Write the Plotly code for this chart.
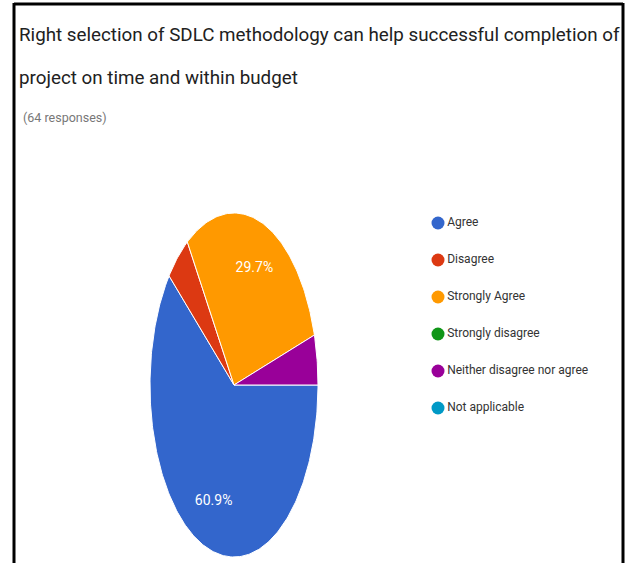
import math
import plotly.graph_objects as go

# ---- data ----
categories = ["Agree", "Disagree", "Strongly Agree", "Strongly disagree",
              "Neither disagree nor agree", "Not applicable"]
responses = [39, 3, 19, 0, 3, 0]
colors = ["#3366CC", "#DC3912", "#FF9900", "#109618", "#990099", "#0099C6"]
title_lines = ["Right selection of SDLC methodology can help successful completion of",
               "project on time and within budget"]
subtitle = "(64 responses)"

# ---- layout constants (pixels) ----
W, H = 633, 563
CX, CY, RX, RY = 234, 385, 84, 172     # elliptical (horizontally squeezed) pie
PAD = 1.02
FONT = "Roboto, Liberation Sans, sans-serif"
START = 90.0   # first slice begins at 3 o'clock, clockwise
LABEL_R = 0.72

fig = go.Figure()

total = sum(responses)
ang = START
label_x, label_y, label_t = [], [], []
for cat, val, col in zip(categories, responses, colors):
    span = 360.0 * val / total
    if val > 0:
        n = max(int(span / 1.0), 2)
        xs, ys = [0.0], [0.0]
        for i in range(n + 1):
            a = math.radians(ang + span * i / n)
            xs.append(math.sin(a))
            ys.append(math.cos(a))
        xs.append(0.0)
        ys.append(0.0)
        fig.add_trace(go.Scatter(
            x=xs, y=ys, mode="lines", fill="toself", fillcolor=col,
            line=dict(color="white", width=1), hoverinfo="skip",
            showlegend=False, xaxis="x", yaxis="y"))
        pct = 100.0 * val / total
        if pct >= 10:
            mid = math.radians(ang + span / 2)
            label_x.append(LABEL_R * math.sin(mid))
            label_y.append(LABEL_R * math.cos(mid))
            label_t.append(f"{pct:.1f}%")
    ang += span

fig.add_trace(go.Scatter(
    x=label_x, y=label_y, mode="text", text=label_t,
    textfont=dict(family=FONT, size=14, color="white"),
    hoverinfo="skip", showlegend=False, xaxis="x", yaxis="y"))

# ---- manual legend (dots + labels) ----
fig.add_trace(go.Scatter(
    x=[0] * len(categories), y=list(range(len(categories))),
    mode="markers+text", text=categories, textposition="middle right",
    marker=dict(color=colors, size=13, symbol="circle"),
    textfont=dict(family=FONT, size=12, color="#333333"),
    cliponaxis=False, hoverinfo="skip", showlegend=False,
    xaxis="x2", yaxis="y2"))

LEG_X, LEG_TOP, LEG_BOT = 438, 223, 408

ax_off = dict(visible=False, showgrid=False, zeroline=False, fixedrange=True)
fig.update_layout(
    width=W, height=H,
    margin=dict(l=0, r=0, t=0, b=0),
    paper_bgcolor="white", plot_bgcolor="rgba(0,0,0,0)",
    showlegend=False,
    xaxis=dict(ax_off, range=[-PAD, PAD],
               domain=[(CX - RX * PAD) / W, (CX + RX * PAD) / W]),
    yaxis=dict(ax_off, range=[-PAD, PAD],
               domain=[(H - CY - RY * PAD) / H, (H - CY + RY * PAD) / H]),
    xaxis2=dict(ax_off, range=[0, 1], domain=[LEG_X / W, 1.0], anchor="y2"),
    yaxis2=dict(ax_off, range=[len(categories) - 1, 0],
                domain=[(H - LEG_BOT) / H, (H - LEG_TOP) / H], anchor="x2"),
    annotations=[
        dict(text=title_lines[0], x=17 / W, y=1 - 35 / H, xref="paper", yref="paper",
             xanchor="left", yanchor="middle", showarrow=False,
             font=dict(family=FONT, size=18.8, color="#212121")),
        dict(text=title_lines[1], x=17 / W, y=1 - 78 / H, xref="paper", yref="paper",
             xanchor="left", yanchor="middle", showarrow=False,
             font=dict(family=FONT, size=18.8, color="#212121")),
        dict(text=subtitle, x=21 / W, y=1 - 117 / H, xref="paper", yref="paper",
             xanchor="left", yanchor="middle", showarrow=False,
             font=dict(family=FONT, size=12.5, color="#777777")),
    ],
    shapes=[
        dict(type="line", xref="paper", yref="paper", x0=14 / W, x1=14 / W,
             y0=0, y1=1 - 3 / H, line=dict(color="black", width=3)),
        dict(type="line", xref="paper", yref="paper", x0=623 / W, x1=623 / W,
             y0=0, y1=1 - 3 / H, line=dict(color="black", width=3)),
        dict(type="line", xref="paper", yref="paper", x0=14 / W, x1=623 / W,
             y0=1 - 4 / H, y1=1 - 4 / H, line=dict(color="black", width=3)),
    ],
)

fig.write_html("out.html")
